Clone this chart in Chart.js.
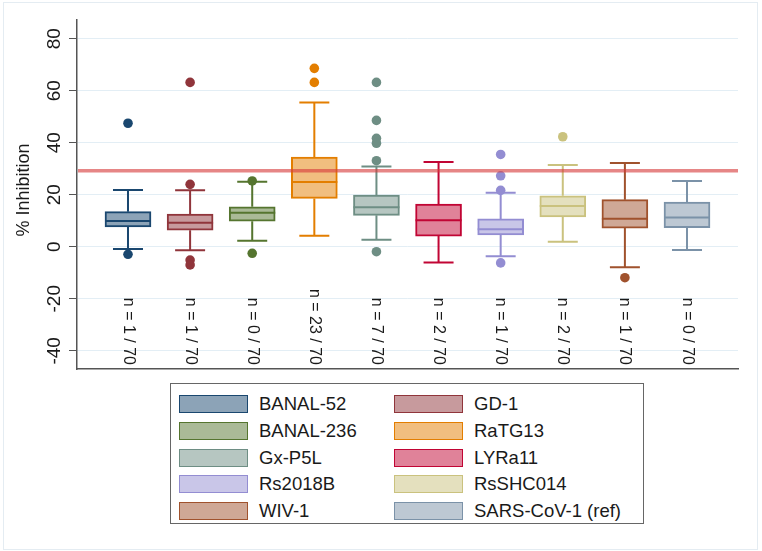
<!DOCTYPE html>
<html>
<head>
<meta charset="utf-8">
<script src="https://cdn.jsdelivr.net/npm/chart.js@4"></script>
<style>
  body { margin: 0; background: #fff; }
  #wrap { position: relative; width: 762px; height: 551px; }
  #legend {
    position: absolute; left: 170px; top: 383px; width: 474px; height: 141px;
    border: 1.5px solid #666; background: #fff;
    display: grid; grid-template-columns: 215px 250px; grid-auto-rows: 26.7px;
    padding: 7px 0 0 8px; box-sizing: border-box;
    font-family: 'Liberation Sans', Arial, sans-serif; font-size: 18.5px; color: #1a1a1a;
  }
  #legend .item { display: flex; align-items: center; white-space: nowrap; }
  #legend .sw { width: 67px; height: 16px; border: 1.5px solid; margin-right: 11px; flex: none; }
</style>
</head>
<body>
<div id="wrap">
  <canvas id="boxChart" width="762" height="551"></canvas>
  <div id="legend"></div>
</div>
<script>
// virus names, in plot order
var categories = ['BANAL-52', 'GD-1', 'BANAL-236', 'RaTG13', 'Gx-P5L', 'LYRa11', 'Rs2018B', 'RsSHC014', 'WIV-1', 'SARS-CoV-1 (ref)'];

// box plot statistics (% inhibition)
var lowerWhisker = [-0.9, -1.3, 2.3, 4.2, 2.7, -6.0, -3.6, 1.9, -7.9, -1.2];
var q1 = [7.6, 6.4, 9.8, 18.6, 12.1, 4.1, 4.6, 11.5, 7.2, 7.3];
var median = [9.9, 9.2, 13.1, 24.9, 15.2, 10.2, 6.7, 15.7, 10.8, 11.3];
var q3 = [13.5, 12.6, 15.4, 34.5, 19.9, 16.4, 10.7, 19.6, 18.1, 17.2];
var upperWhisker = [21.8, 21.7, 25.0, 55.5, 30.9, 32.6, 20.8, 31.4, 32.2, 25.3];
var outliers = [
  [47.5, -2.9],
  [63.2, 24.0, -5.1, -7.0],
  [25.3, -2.5],
  [68.6, 63.2],
  [63.2, 48.6, 41.7, 39.8, 33.1, -1.9],
  [],
  [35.5, 27.3, 21.7, -6.2],
  [42.3],
  [-11.9],
  []
];

// samples above threshold out of total
var aboveCounts = [1, 1, 0, 23, 7, 2, 1, 2, 1, 0];
var totalCount = 70;
var threshold = 29.2;
var yTicks = [-40, -20, 0, 20, 40, 60, 80];

var lineColors = ['#1a476f', '#90353b', '#55752f', '#e37e00', '#6e8e84', '#c10534', '#938dd2', '#cac27e', '#a0522d', '#7b92a8'];
var fillColors = ['#8ca3b7', '#c79a9d', '#aaba97', '#f1be7f', '#b6c6c1', '#e08299', '#c9c6e8', '#e4e0be', '#cfa896', '#bdc8d3'];

var fontFamily = "'Liberation Sans', Arial, sans-serif";

// html legend, two columns
var legendEl = document.getElementById('legend');
categories.forEach(function (name, i) {
  var item = document.createElement('div');
  item.className = 'item';
  item.innerHTML = '<span class="sw" style="background:' + fillColors[i] + ';border-color:' + lineColors[i] + '"></span><span>' + name + '</span>';
  legendEl.appendChild(item);
});

var boxData = categories.map(function (c, i) { return { x: i, y: [q1[i], q3[i]] }; });
var outlierData = [];
var outlierColors = [];
outliers.forEach(function (list, i) {
  list.forEach(function (v) {
    outlierData.push({ x: i, y: v });
    outlierColors.push(lineColors[i]);
  });
});

var boxPlotPlugin = {
  id: 'boxPlot',
  beforeDraw: function (chart) {
    var ctx = chart.ctx;
    ctx.save();
    ctx.fillStyle = '#fff';
    ctx.fillRect(0, 0, chart.width, chart.height);
    ctx.strokeStyle = '#e4ecf2';
    ctx.lineWidth = 1;
    ctx.strokeRect(3.5, 2.5, 754, 547);
    ctx.restore();
  },
  beforeDatasetsDraw: function (chart) {
    var ctx = chart.ctx, xs = chart.scales.x, ys = chart.scales.y;
    ctx.save();
    ctx.lineWidth = 2;
    categories.forEach(function (c, i) {
      var x = xs.getPixelForValue(i);
      ctx.strokeStyle = lineColors[i];
      ctx.beginPath();
      ctx.moveTo(x, ys.getPixelForValue(upperWhisker[i]));
      ctx.lineTo(x, ys.getPixelForValue(q3[i]));
      ctx.moveTo(x, ys.getPixelForValue(q1[i]));
      ctx.lineTo(x, ys.getPixelForValue(lowerWhisker[i]));
      ctx.moveTo(x - 15, ys.getPixelForValue(upperWhisker[i]));
      ctx.lineTo(x + 15, ys.getPixelForValue(upperWhisker[i]));
      ctx.moveTo(x - 15, ys.getPixelForValue(lowerWhisker[i]));
      ctx.lineTo(x + 15, ys.getPixelForValue(lowerWhisker[i]));
      ctx.stroke();
    });
    ctx.restore();
  },
  afterDatasetsDraw: function (chart) {
    var ctx = chart.ctx, xs = chart.scales.x, ys = chart.scales.y, area = chart.chartArea;
    ctx.save();
    // medians
    ctx.lineWidth = 2;
    categories.forEach(function (c, i) {
      var x = xs.getPixelForValue(i);
      var y = ys.getPixelForValue(median[i]);
      ctx.strokeStyle = lineColors[i];
      ctx.beginPath();
      ctx.moveTo(x - 23, y);
      ctx.lineTo(x + 23, y);
      ctx.stroke();
    });
    // threshold line
    var ty = ys.getPixelForValue(threshold);
    ctx.strokeStyle = 'rgba(215,60,60,0.62)';
    ctx.lineWidth = 3.5;
    ctx.beginPath();
    ctx.moveTo(area.left + 1, ty);
    ctx.lineTo(area.right, ty);
    ctx.stroke();
    // n labels
    ctx.fillStyle = '#1a1a1a';
    ctx.font = '16px ' + fontFamily;
    ctx.textAlign = 'right';
    ctx.textBaseline = 'middle';
    categories.forEach(function (c, i) {
      ctx.save();
      ctx.translate(xs.getPixelForValue(i), area.bottom - 4);
      ctx.rotate(Math.PI / 2);
      ctx.fillText('n = ' + aboveCounts[i] + ' / ' + totalCount, 0, 0);
      ctx.restore();
    });
    // y tick labels
    ctx.font = '19px ' + fontFamily;
    ctx.textAlign = 'center';
    yTicks.forEach(function (v) {
      ctx.save();
      ctx.translate(55, ys.getPixelForValue(v));
      ctx.rotate(-Math.PI / 2);
      ctx.fillText(String(v), 0, 0);
      ctx.restore();
    });
    // y title
    ctx.font = '18px ' + fontFamily;
    ctx.save();
    ctx.translate(24, 190);
    ctx.rotate(-Math.PI / 2);
    ctx.fillText('% Inhibition', 0, 0);
    ctx.restore();
    ctx.restore();
  }
};

var ctx = document.getElementById('boxChart').getContext('2d');
var boxChart = new Chart(ctx, {
  type: 'bar',
  data: {
    datasets: [{
      type: 'scatter',
      data: outlierData,
      pointBackgroundColor: outlierColors,
      pointBorderWidth: 0,
      pointRadius: 4.8,
      order: 0
    }, {
      type: 'bar',
      data: boxData,
      backgroundColor: fillColors,
      borderColor: lineColors,
      borderWidth: 2,
      borderSkipped: false,
      barThickness: 46,
      order: 1
    }]
  },
  options: {
    responsive: false,
    animation: false,
    devicePixelRatio: 1,
    layout: { padding: { top: 20, right: 24, bottom: 182, left: 0 } },
    plugins: {
      legend: { display: false },
      tooltip: { enabled: false }
    },
    scales: {
      x: {
        type: 'linear',
        offset: false,
        min: -0.821,
        max: 9.821,
        ticks: { display: false },
        grid: { display: false },
        border: { color: '#555', width: 1.5 },
        afterFit: function (s) { s.height = 0; }
      },
      y: {
        min: -47,
        max: 87.2,
        afterBuildTicks: function (s) { s.ticks = yTicks.map(function (v) { return { value: v }; }); },
        ticks: { display: false },
        grid: { color: '#e3eef5', lineWidth: 1, tickColor: '#555', tickLength: 8 },
        border: { color: '#555', width: 1.5 },
        afterFit: function (s) { s.width = 77; }
      }
    }
  },
  plugins: [boxPlotPlugin]
});
</script>
</body>
</html>
